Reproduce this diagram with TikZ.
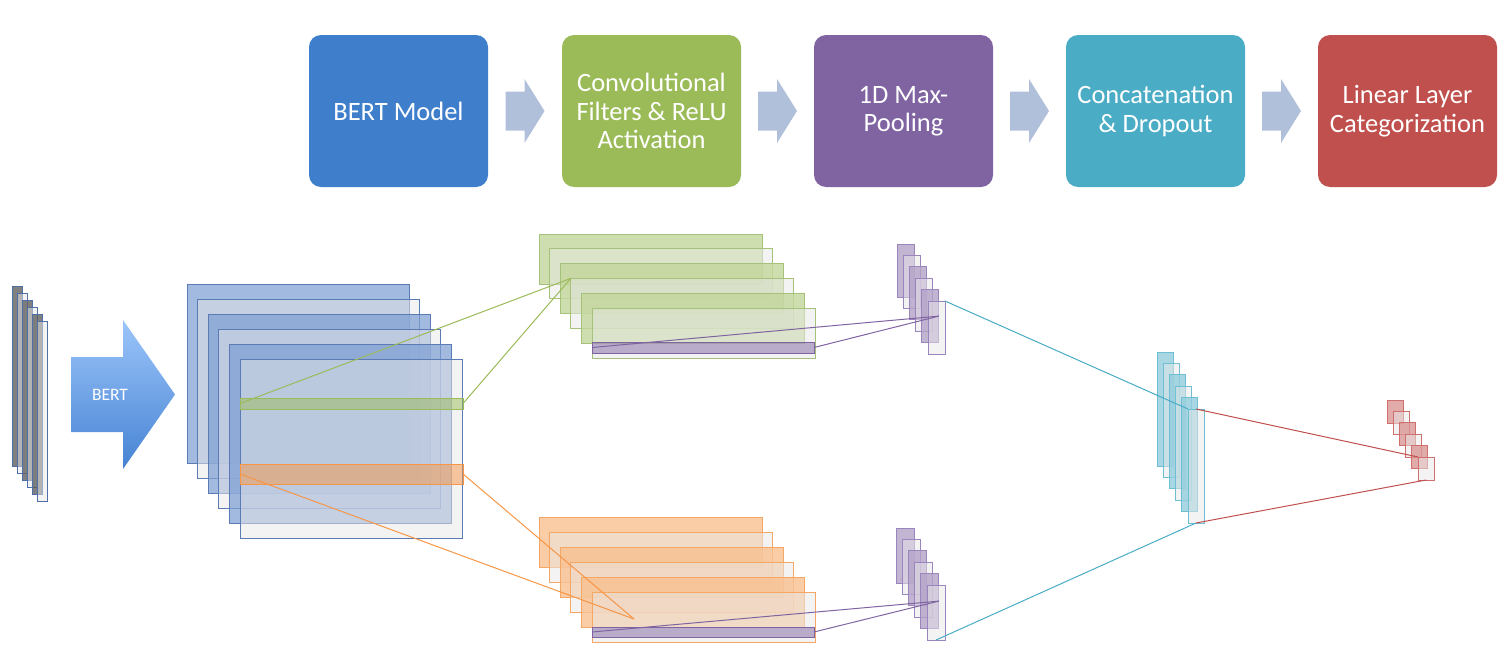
\documentclass[tikz,border=0pt]{standalone}
\usepackage{fontspec}
\setmainfont{Carlito}
\usetikzlibrary{calc}
\definecolor{bertblue}{HTML}{3E7ECB}
\definecolor{convgreen}{HTML}{9BBB59}
\definecolor{poolpurple}{HTML}{8064A2}
\definecolor{catcyan}{HTML}{4BACC6}
\definecolor{linred}{HTML}{C0504D}
\definecolor{orangeline}{HTML}{F79646}
\definecolor{flowgray}{HTML}{B1C0DA}
\definecolor{arrowtop}{HTML}{9CC5FA}
\definecolor{arrowbot}{HTML}{4683D3}
\definecolor{pale}{HTML}{E8E8E8}
% layer colours: 0 = coloured sheet, 1 = pale sheet
\definecolor{in0}{HTML}{606060}\colorlet{in1}{pale}
\definecolor{emb0}{HTML}{7F9FD4}\colorlet{emb1}{pale}
\definecolor{grn0}{HTML}{C3D69B}\colorlet{grn1}{pale}
\definecolor{org0}{HTML}{FAC090}\colorlet{org1}{pale}
\definecolor{pool0}{HTML}{B3A2C7}\colorlet{pool1}{pale}
\definecolor{cat0}{HTML}{92CDDC}\colorlet{cat1}{pale}
\definecolor{lin0}{HTML}{D99694}\colorlet{lin1}{pale}
\definecolor{inline}{HTML}{4F6FA8}
\definecolor{embline}{HTML}{5B7BB5}
\definecolor{grnline}{HTML}{A6C27A}
\definecolor{orgline}{HTML}{F5A866}
\definecolor{poolline}{HTML}{9B85BF}
\definecolor{catline}{HTML}{6EBFD3}
\definecolor{linline}{HTML}{D0706E}
\tikzset{stage/.style={rectangle,rounded corners=12pt,minimum width=179pt,minimum height=152pt,inner sep=0pt,text=white,align=center,font=\fontsize{26.5}{28.5}\selectfont}}
\tikzset{flow/.style={fill=flowgray}}
\tikzset{layer/.style={rectangle,anchor=north west,inner sep=0pt,outer sep=0pt,line width=1pt,fill opacity=\op}}
\tikzset{band/.style={rectangle,anchor=north west,inner sep=0pt,outer sep=0pt,line width=1pt,fill opacity=0.5}}
\tikzset{wire/.style={line width=1pt}}

\begin{document}
\begin{tikzpicture}[x=1pt,y=-1pt]
  \useasboundingbox (0,0) rectangle (1501,656);
  % pipeline
  \node[stage,fill=bertblue] (bert) at (398.5,111) {BERT Model};
  \node[stage,fill=convgreen] (conv) at (651.5,111) {Convolutional\\Filters \& ReLU\\Activation};
  \node[stage,fill=poolpurple] (pool) at (903.5,111) {1D Max-\\Pooling};
  \node[stage,fill=catcyan] (cat) at (1155.5,111) {Concatenation\\\& Dropout};
  \node[stage,fill=linred] (lin) at (1407.5,111) {Linear Layer\\Categorization};
  \foreach \a/\b in {bert/conv,conv/pool,pool/cat,cat/lin}
    \fill[flow] ($(\a.east)!0.5!(\b.west)+(-19.5,-19.5)$) -- ++(19,0) -- ++(0,-12.5) -- ++(20,32) -- ++(-20,32) -- ++(0,-12.5) -- ++(-19,0) -- cycle;
  % tokens
  \foreach \i in {0,...,5}{
    \pgfmathtruncatemacro\k{mod(\i,2)}
    \pgfmathsetmacro\op{\k==0 ? 0.8 : 0.5}
    \node[layer,draw=inline,fill=in\k,minimum width=10pt,minimum height=180pt] (t\i) at ({12+5*\i},{286+7*\i}) {};
  }
  \shade[top color=arrowtop,bottom color=arrowbot] (71,357) -- (123,357) -- (123,320) -- (175,394.5) -- (123,469) -- (123,432) -- (71,432) -- cycle;
  \node[text=white,font=\fontsize{17.5}{20}\selectfont] (bertword) at (110,395) {BERT};
  % embeddings
  \foreach \i in {0,...,5}{
    \pgfmathtruncatemacro\k{mod(\i,2)}
    \pgfmathsetmacro\op{\k==0 ? 0.72 : 0.5}
    \node[layer,draw=embline,fill=emb\k,minimum width=222pt,minimum height=179pt] (e\i) at ({187+10.6*\i},{284+15*\i}) {};
  }
  \node[band,draw=convgreen,fill=convgreen,minimum width=223pt,minimum height=11pt] (gband) at (240,398) {};
  \node[band,draw=orangeline,fill=orangeline,minimum width=223pt,minimum height=20pt] (oband) at (240,464) {};
  % feature maps
  \foreach \i in {0,...,5}{
    \pgfmathtruncatemacro\k{mod(\i,2)}
    \pgfmathsetmacro\op{\k==0 ? 0.8 : 0.5}
    \node[layer,draw=grnline,fill=grn\k,minimum width=223pt,minimum height=50pt] (g\i) at ({539+10.6*\i},{234+14.8*\i}) {};
  }
  \foreach \i in {0,...,5}{
    \pgfmathtruncatemacro\k{mod(\i,2)}
    \pgfmathsetmacro\op{\k==0 ? 0.8 : 0.5}
    \node[layer,draw=orgline,fill=org\k,minimum width=223pt,minimum height=50pt] (o\i) at ({539+10.6*\i},{517+15*\i}) {};
  }
  \node[band,draw=poolpurple,fill=poolpurple,minimum width=222pt,minimum height=11pt] (pband) at (592,342) {};
  \node[band,draw=poolpurple,fill=poolpurple,minimum width=222pt,minimum height=10pt] (qband) at (592,627) {};
  % pooled
  \foreach \i in {0,...,5}{
    \pgfmathtruncatemacro\k{mod(\i,2)}
    \pgfmathsetmacro\op{\k==0 ? 0.8 : 0.5}
    \node[layer,draw=poolline,fill=pool\k,minimum width=17pt,minimum height=53pt] (p\i) at ({897+6.2*\i},{244+11.4*\i}) {};
  }
  \foreach \i in {0,...,5}{
    \pgfmathtruncatemacro\k{mod(\i,2)}
    \pgfmathsetmacro\op{\k==0 ? 0.8 : 0.5}
    \node[layer,draw=poolline,fill=pool\k,minimum width=18pt,minimum height=55pt] (q\i) at ({896+6.2*\i},{528+11.4*\i}) {};
  }
  % concatenated
  \foreach \i in {0,...,5}{
    \pgfmathtruncatemacro\k{mod(\i,2)}
    \pgfmathsetmacro\op{\k==0 ? 0.8 : 0.5}
    \node[layer,draw=catline,fill=cat\k,minimum width=16pt,minimum height=114pt] (c\i) at ({1157+6.2*\i},{352+11.4*\i}) {};
  }
  % output
  \foreach \i in {0,...,5}{
    \pgfmathtruncatemacro\k{mod(\i,2)}
    \pgfmathsetmacro\op{\k==0 ? 0.8 : 0.5}
    \node[layer,draw=linline,fill=lin\k,minimum width=16pt,minimum height=23pt] (l\i) at ({1387+6.2*\i},{400+11.4*\i}) {};
  }
  \coordinate (ohit) at (634,619);
  \draw[wire,convgreen] (gband.west) -- (g3.north west);
  \draw[wire,convgreen] (gband.east) -- (g3.north west);
  \draw[wire,orangeline] (oband.west) -- (ohit);
  \draw[wire,orangeline] (oband.east) -- (ohit);
  \draw[wire,poolpurple] (pband.west) -- (p4.east);
  \draw[wire,poolpurple] (pband.east) -- (p4.east);
  \draw[wire,poolpurple] (qband.west) -- (q4.east);
  \draw[wire,poolpurple] (qband.east) -- (q4.east);
  \draw[wire,catcyan] (p5.north east) -- (c5.north west);
  \draw[wire,catcyan] (q5.south) -- (c5.south);
  \draw[wire,linred] (c5.north) -- (l5.north west);
  \draw[wire,linred] (c5.south) -- (l5.south);
\end{tikzpicture}
\end{document}
